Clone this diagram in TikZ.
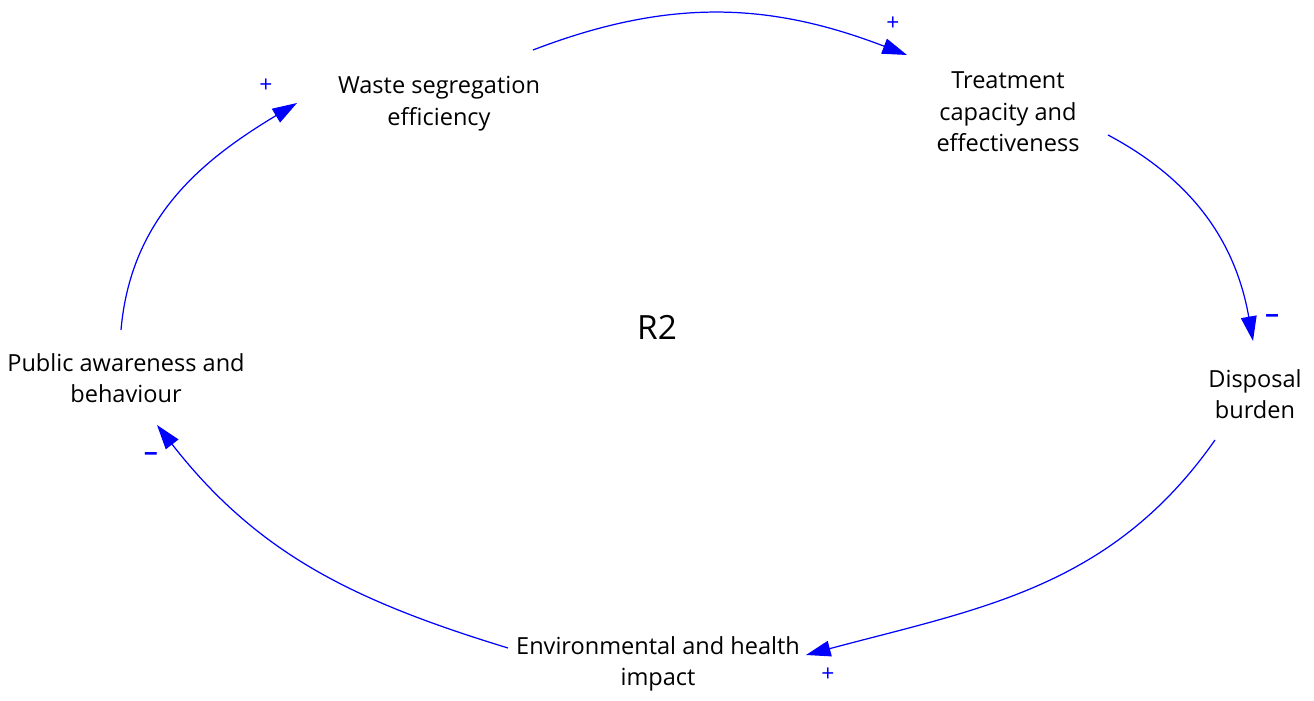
\documentclass[tikz,border=0pt]{standalone}
\usepackage{fontspec}
\setmainfont{Open Sans}
\usetikzlibrary{arrows.meta}

\begin{document}
\begin{tikzpicture}[x=0.02cm, y=0.02cm]
    % Define the styles
    \tikzset{
        var/.style = {align=center, inner sep=0pt, font=\fontsize{13.4}{18}\selectfont},
        link/.style = {draw=blue, line width=0.7pt, -{Triangle[length=14pt, width=9pt]}},
        sign/.style = {text=blue, inner sep=0pt, font=\fontsize{13}{13}\selectfont},
        minus/.style = {sign, font=\fontsize{14}{14}\selectfont\bfseries},
    }
    \useasboundingbox (0,0) rectangle (1314,700);

    % Nodes placement
    \node [var] (seg) at (439,596) {Waste segregation\\efficiency};
    \node [var] (treat) at (1008,588) {Treatment\\capacity and\\effectiveness};
    \node [var] (disp) at (1255,306) {Disposal\\burden};
    \node [var] (env) at (658,36) {Environmental and health\\impact};
    \node [var] (pub) at (126,322) {Public awareness and\\behaviour};
    \node [font=\fontsize{19}{23}\selectfont] (loop) at (657,373) {R2};

    % Connecting lines (loop R2)
    \draw [link] ([shift={(94,54)}]seg.center) to[out=21, in=159]
        node[sign, pos=1, shift={(-14,31)}] {+} ([shift={(-101,57)}]treat.center);
    \draw [link] ([shift={(100,-23)}]treat.center) to[out=-28, in=100]
        node[minus, pos=1, shift={(19,21)}] {−} ([shift={(-2,53)}]disp.center);
    \draw [link] ([shift={(-40,-46)}]disp.center) to[out=-125, in=15]
        node[sign, pos=1, shift={(22,-20)}] {+} ([shift={(148,9)}]env.center);
    \draw [link] ([shift={(-150,16)}]env.center) to[out=163, in=-52]
        node[minus, pos=1, shift={(-6,-33)}] {−} ([shift={(31,-47)}]pub.center);
    \draw [link] ([shift={(-5,48)}]pub.center) to[out=85, in=-149]
        node[sign, pos=1, shift={(-31,17)}] {+} ([shift={(-142,1)}]seg.center);

\end{tikzpicture}
\end{document}
